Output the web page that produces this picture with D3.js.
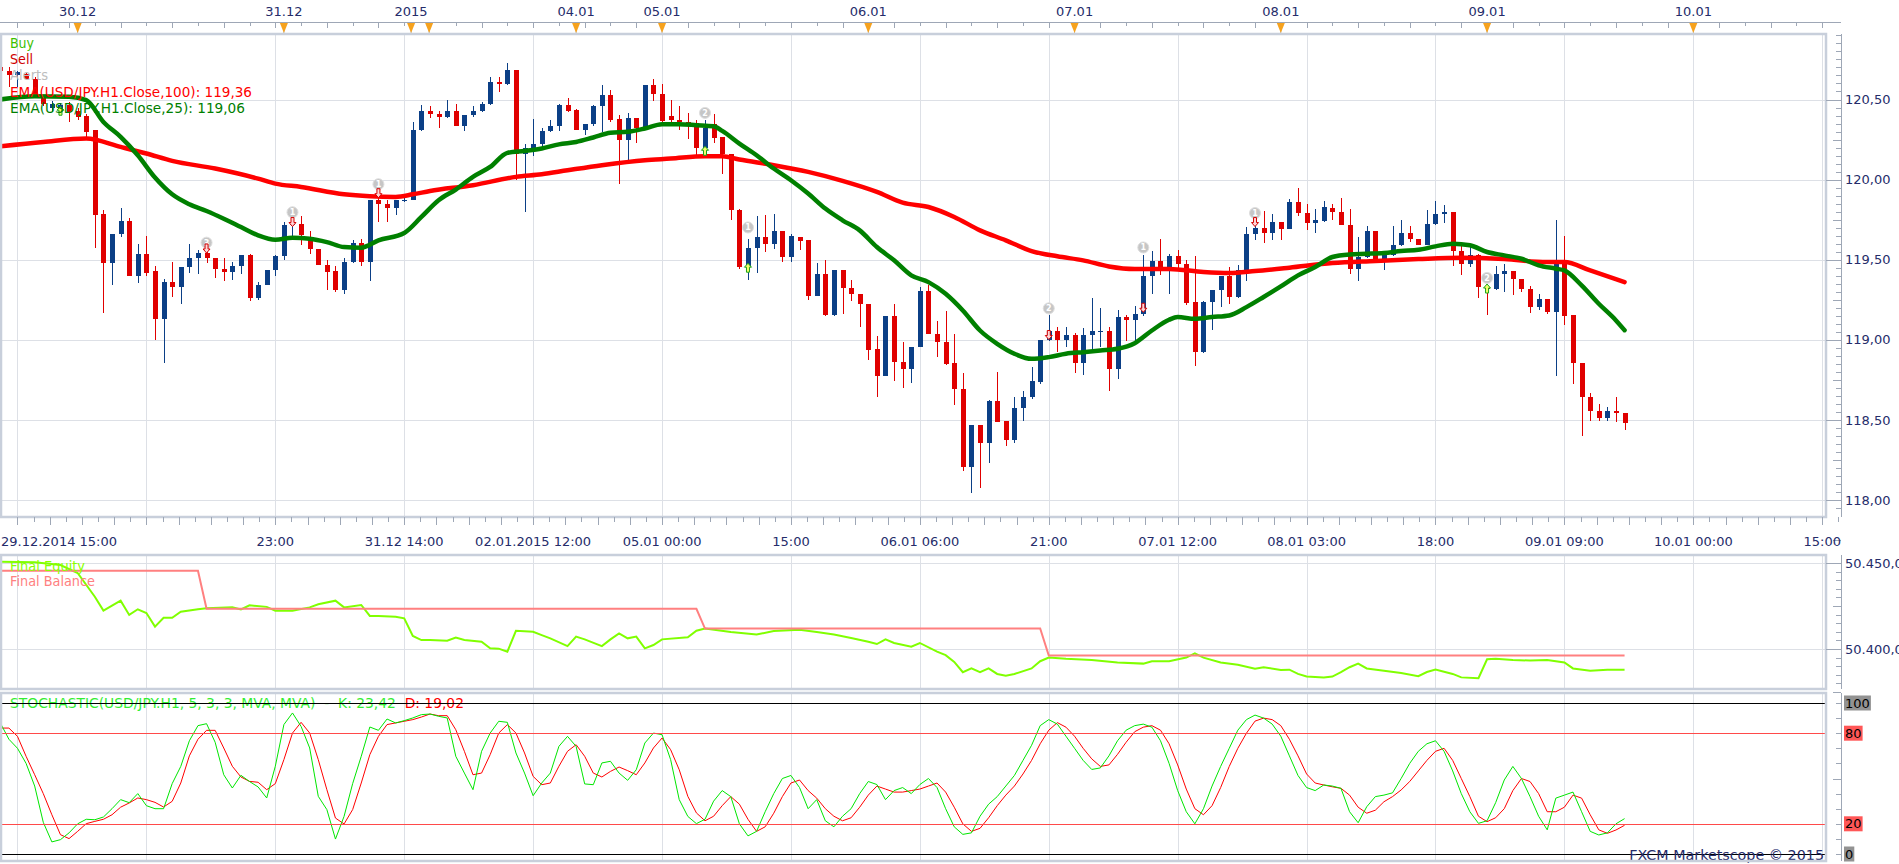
<!DOCTYPE html>
<html>
<head>
<meta charset="utf-8">
<title>USD/JPY H1 - Marketscope</title>
<script src="https://cdn.jsdelivr.net/npm/d3@7"></script>
<style>
  html, body { margin: 0; padding: 0; background: #fff; }
  svg { display: block; font-family: "DejaVu Sans", Verdana, sans-serif; font-size: 13px; }
</style>
</head>
<body>
<svg id="chart" width="1899" height="864"></svg>
<script>
// USD/JPY H1 candles, EMA(100) / EMA(25), equity panel and stochastic

// [open, high, low, close] for each hourly bar
const candles = [
  [120.70,120.72,120.66,120.68],[120.68,120.70,120.58,120.655],[120.655,120.675,120.58,120.67],[120.66,120.67,120.62,120.63],
  [120.625,120.64,120.51,120.537],[120.52,120.53,120.46,120.475],[120.445,120.49,120.42,120.475],[120.44,120.48,120.41,120.465],
  [120.465,120.485,120.36,120.42],[120.43,120.45,120.37,120.39],[120.395,120.41,120.245,120.30],[120.31,120.31,119.57,119.78],
  [119.785,119.81,119.17,119.48],[119.48,119.66,119.34,119.66],[119.66,119.82,119.64,119.74],[119.74,119.76,119.40,119.40],
  [119.40,119.60,119.355,119.533],[119.533,119.645,119.40,119.42],[119.427,119.46,118.998,119.13],[119.13,119.38,118.854,119.358],
  [119.358,119.485,119.27,119.33],[119.33,119.452,119.225,119.452],[119.452,119.596,119.42,119.512],[119.512,119.558,119.41,119.542],
  [119.54,119.56,119.48,119.51],[119.512,119.512,119.385,119.444],[119.444,119.512,119.367,119.423],[119.423,119.485,119.375,119.458],
  [119.458,119.527,119.412,119.527],[119.527,119.537,119.242,119.26],[119.26,119.358,119.25,119.344],[119.344,119.437,119.34,119.437],
  [119.437,119.527,119.396,119.52],[119.52,119.735,119.496,119.715],[119.715,119.75,119.65,119.725],[119.72,119.77,119.59,119.652],
  [119.62,119.68,119.537,119.569],[119.569,119.569,119.465,119.465],[119.47,119.496,119.308,119.423],[119.43,119.462,119.298,119.308],
  [119.308,119.512,119.283,119.483],[119.483,119.625,119.48,119.606],[119.606,119.631,119.458,119.485],[119.485,119.875,119.37,119.875],
  [119.875,119.923,119.735,119.85],[119.85,119.87,119.735,119.825],[119.825,119.875,119.777,119.87],[119.87,119.89,119.86,119.875],
  [119.875,120.36,119.875,120.308],[120.308,120.465,120.304,120.427],[120.427,120.458,120.387,120.408],[120.408,120.427,120.325,120.392],
  [120.392,120.496,120.385,120.427],[120.427,120.471,120.333,120.333],[120.333,120.402,120.304,120.402],[120.402,120.462,120.39,120.427],
  [120.427,120.485,120.42,120.471],[120.471,120.642,120.465,120.612],[120.612,120.642,120.548,120.594],[120.594,120.725,120.59,120.683],
  [120.683,120.683,119.996,120.162],[120.162,120.221,119.798,120.2],[120.2,120.377,120.146,120.225],[120.225,120.319,120.21,120.304],
  [120.304,120.375,120.30,120.333],[120.333,120.471,120.304,120.465],[120.465,120.512,120.42,120.429],[120.433,120.44,120.31,120.312],
  [120.312,120.346,120.277,120.346],[120.346,120.465,120.335,120.458],[120.458,120.59,120.3,120.527],[120.527,120.558,120.36,120.371],
  [120.381,120.402,119.971,120.246],[120.246,120.417,120.121,120.387],[120.387,120.387,120.229,120.319],[120.319,120.59,120.319,120.59],
  [120.59,120.631,120.492,120.537],[120.537,120.596,120.36,120.367],[120.396,120.496,120.36,120.371],[120.375,120.462,120.308,120.358],
  [120.362,120.417,120.254,120.35],[120.354,120.375,120.152,120.2],[120.2,120.371,120.162,120.325],[120.35,120.412,120.229,120.262],
  [120.267,120.267,120.037,120.162],[120.162,120.162,119.746,119.812],[119.812,119.819,119.444,119.454],[119.454,119.631,119.371,119.575],
  [119.575,119.775,119.419,119.642],[119.642,119.779,119.548,119.6],[119.6,119.783,119.569,119.679],[119.679,119.679,119.485,119.517],
  [119.517,119.658,119.485,119.646],[119.642,119.642,119.558,119.617],[119.621,119.621,119.246,119.271],[119.271,119.479,119.271,119.408],
  [119.408,119.496,119.146,119.152],[119.152,119.433,119.146,119.433],[119.433,119.433,119.158,119.325],[119.325,119.371,119.242,119.283],
  [119.283,119.283,119.079,119.225],[119.225,119.225,118.871,118.937],[118.944,119.021,118.642,118.777],[118.777,119.15,118.771,119.15],
  [119.15,119.221,118.742,118.86],[118.86,118.985,118.7,118.819],[118.819,118.958,118.731,118.958],[118.958,119.329,118.955,119.304],
  [119.304,119.34,119.037,119.037],[119.037,119.117,118.892,118.985],[118.985,119.179,118.84,118.846],[118.854,119.036,118.596,118.692],
  [118.692,118.792,118.183,118.204],[118.204,118.471,118.042,118.471],[118.471,118.471,118.073,118.354],[118.354,118.625,118.229,118.617],
  [118.617,118.798,118.485,118.485],[118.492,118.492,118.34,118.375],[118.375,118.646,118.354,118.575],[118.575,118.679,118.492,118.646],
  [118.646,118.833,118.631,118.74],[118.735,118.996,118.725,118.996],[118.996,119.152,118.99,119.058],[119.058,119.083,118.923,118.996],
  [118.999,119.083,118.958,119.033],[119.033,119.04,118.792,118.854],[118.854,119.075,118.783,119.033],[119.033,119.258,118.942,119.058],
  [119.054,119.196,118.958,119.058],[119.058,119.083,118.683,118.819],[118.819,119.183,118.756,119.142],[119.142,119.152,118.992,119.125],
  [119.125,119.208,118.971,119.158],[119.158,119.527,119.15,119.396],[119.396,119.554,119.283,119.492],[119.492,119.631,119.402,119.437],
  [119.437,119.537,119.288,119.521],[119.521,119.562,119.433,119.475],[119.475,119.496,119.215,119.229],[119.233,119.521,118.839,118.923],
  [118.923,119.24,118.92,119.235],[119.235,119.312,119.063,119.312],[119.312,119.396,119.204,119.396],[119.396,119.454,119.225,119.267],
  [119.267,119.465,119.26,119.437],[119.437,119.704,119.367,119.662],[119.662,119.735,119.625,119.7],[119.7,119.804,119.604,119.667],
  [119.667,119.783,119.625,119.733],[119.733,119.733,119.625,119.692],[119.692,119.881,119.692,119.858],[119.858,119.946,119.775,119.792],
  [119.792,119.846,119.688,119.729],[119.729,119.817,119.667,119.746],[119.742,119.865,119.738,119.829],[119.825,119.846,119.746,119.798],
  [119.8,119.883,119.717,119.717],[119.717,119.817,119.412,119.444],[119.44,119.64,119.37,119.517],[119.517,119.712,119.508,119.679],
  [119.679,119.679,119.49,119.496],[119.496,119.527,119.435,119.527],[119.527,119.71,119.52,119.59],[119.59,119.75,119.585,119.667],
  [119.667,119.712,119.612,119.631],[119.631,119.631,119.592,119.592],[119.592,119.808,119.59,119.721],[119.721,119.865,119.715,119.788],
  [119.788,119.842,119.73,119.8],[119.8,119.8,119.458,119.554],[119.554,119.612,119.402,119.475],[119.475,119.579,119.454,119.527],
  [119.527,119.535,119.262,119.329],[119.33,119.335,119.152,119.318],[119.318,119.462,119.31,119.412],[119.412,119.475,119.3,119.429],
  [119.429,119.429,119.277,119.381],[119.381,119.381,119.298,119.319],[119.319,119.333,119.167,119.204],[119.204,119.283,119.188,119.254],
  [119.254,119.254,119.158,119.173],[119.173,119.75,118.777,119.5],[119.5,119.646,119.09,119.146],[119.152,119.152,118.721,118.854],
  [118.858,118.858,118.402,118.642],[118.646,118.671,118.492,118.554],[118.558,118.6,118.492,118.51],[118.51,118.579,118.492,118.558],
  [118.558,118.646,118.485,118.542],[118.546,118.546,118.437,118.479]
];

// [bar, value] read along the moving averages
const ema100 = [
  [0,120.208],[5,120.235],[10,120.256],[14,120.204],[17,120.163],[20,120.117],[25,120.069],[30,120.006],[32,119.975],
  [35,119.954],[40,119.908],[43,119.896],[46,119.892],[48,119.908],[50,119.929],[55,119.965],[60,120.017],[63,120.033],
  [66,120.058],[70,120.09],[75,120.121],[78,120.131],[82,120.146],[84,120.146],[86,120.125],[90,120.09],[94,120.048],
  [98,119.992],[102,119.923],[105,119.856],[108,119.829],[111,119.767],[114,119.683],[117,119.621],[120,119.554],
  [123,119.521],[126,119.496],[129,119.458],[132,119.442],[136,119.442],[140,119.423],[143,119.417],[146,119.429],
  [150,119.45],[155,119.479],[160,119.492],[165,119.504],[170,119.512],[175,119.504],[180,119.485],[182,119.485],
  [185,119.433],[189,119.36]
];
const ema25 = [
  [0,120.5],[4,120.521],[8,120.517],[10,120.496],[12,120.36],[14,120.267],[16,120.152],[18,120.013],[20,119.908],
  [22,119.846],[24,119.804],[26,119.756],[28,119.704],[30,119.652],[32,119.625],[34,119.637],[36,119.631],[38,119.61],
  [40,119.579],[42,119.575],[44,119.621],[47,119.667],[49,119.767],[51,119.871],[53,119.938],[55,120.017],[57,120.079],
  [59,120.167],[61,120.179],[63,120.194],[65,120.22],[67,120.235],[69,120.263],[71,120.292],[73,120.298],[75,120.319],
  [77,120.346],[79,120.346],[81,120.34],[83,120.333],[84,120.304],[86,120.225],[88,120.152],[90,120.069],[92,119.996],
  [94,119.913],[96,119.819],[98,119.746],[100,119.683],[102,119.579],[104,119.496],[106,119.402],[108,119.36],
  [110,119.287],[112,119.183],[114,119.058],[116,118.975],[118,118.913],[120,118.881],[122,118.892],[124,118.913],
  [126,118.923],[128,118.933],[130,118.944],[132,118.979],[134,119.058],[136,119.125],[137,119.142],[139,119.131],
  [141,119.142],[143,119.152],[145,119.204],[147,119.267],[149,119.333],[151,119.402],[153,119.454],[155,119.517],
  [157,119.533],[159,119.537],[161,119.542],[163,119.554],[165,119.562],[167,119.583],[169,119.6],[171,119.59],
  [173,119.548],[175,119.527],[177,119.506],[179,119.465],[181,119.444],[182,119.433],[184,119.34],[186,119.225],
  [188,119.121],[189,119.06]
];

// trade markers: [bar, circle price, number, kind, arrow price]
const signals = [
  [7, null, "", "buy", 120.43],
  [24, 119.60, "3", "sell", 119.57],
  [34, 119.79, "1", "sell", 119.735],
  [44, 119.965, "1", "sell", 119.915],
  [82, 120.41, "2", "buy", 120.18],
  [87, 119.695, "1", "buy", 119.45],
  [122, 119.19, "2", "sell", 119.03],
  [133, 119.57, "1", "sell", 119.2],
  [146, 119.785, "1", "sell", 119.735],
  [173, 119.38, "2", "buy", 119.32]
];

// account panel
const balanceBars = [0, 23, 24, 81, 82, 121, 122, 189];
const balanceVals = [50445.5, 50445.5, 50423.4, 50423.4, 50411.9, 50411.9, 50396.2, 50396.2];
const equityBars = [0,4,7,9,11,12,14,15,16,17,18,19,20,21,23,24,27,28,29,31,32,34,36,37,39,40,42,43,44,46,47,48,49,50,52,53,54,56,57,58,59,
  60,62,63,64,66,67,68,70,71,72,73,74,75,76,77,80,81,82,85,88,90,93,95,97,99,101,102,103,104,106,107,109,110,111,112,113,114,115,116,117,118,
  120,121,122,124,127,130,133,134,136,138,139,140,142,144,146,147,149,150,151,152,154,155,156,157,158,159,161,163,165,166,167,169,170,172,173,174,
  176,178,180,182,183,185,187,189];
const equityVals = [50450.8,50450.5,50448.8,50444.2,50430.4,50422.3,50428.1,50419.8,50423.1,50420.9,50413.0,50418.2,50418.2,50421.7,50423.1,
  50423.7,50424.2,50423.0,50425.4,50424.5,50422.3,50422.3,50424.2,50426.0,50428.1,50424.2,50425.6,50419.2,50419.2,50418.8,50417.8,50407.6,
  50405.2,50405.2,50404.8,50406.6,50405.2,50404.2,50400.4,50400.2,50398.4,50410.6,50410.0,50408.1,50406.2,50401.7,50407.2,50405.6,50401.7,
  50405.6,50409.1,50406.2,50407.2,50400.4,50402.3,50405.6,50406.8,50410.6,50411.9,50409.9,50408.4,50410.5,50411.2,50409.9,50408.4,50406.4,
  50404.2,50402.9,50405.6,50403.5,50401.3,50403.5,50398.5,50396.4,50392.5,50386.5,50388.7,50386.5,50388.7,50385.5,50384.5,50385.5,
  50388.7,50392.9,50395.0,50394.3,50393.6,50392.2,50391.5,50392.9,50392.9,50395.0,50397.5,50395.0,50392.2,50390.8,50388.5,50389.4,50387.8,
  50388.0,50385.5,50384.0,50383.5,50384.0,50386.5,50389.4,50391.5,50388.7,50387.3,50386.0,50384.2,50386.6,50388.0,50385.5,50383.5,50383.0,
  50394.0,50394.3,50393.6,50393.3,50393.6,50392.2,50388.7,50387.3,50388.0,50388.0];

// stochastic %K and %D, one value per bar
const stochK = [86.8,76,70,60,45,21,8,9.5,14,20,23,22.7,24.5,30,36,34,40,32,30,30,46.6,58,75,85,86.3,74,52.5,43.7,52.1,48,44.4,37.1,58.1,
  85.7,93.4,84.5,70.2,38.2,29.4,9.9,24.9,46.6,64.7,84.1,81.9,89.4,86.8,88.3,90.1,92.3,92.7,91.2,90.1,64.7,53.6,42.6,68,80.1,87.9,87.2,66.9,
  53.6,38.6,47,53.6,71.3,77.9,71.3,46.4,45.9,60.3,61.4,53.6,48.8,55.8,73.5,80.1,79,62.5,36,24.9,20.1,23,35,42,38,20,12,15,28,40,50,52,44,30,
  36,22,18,25,30,40,48,46,36,42,44,40,46,50,44,30,18,13,14,25,33,38,45,52,62,72,85,89,86,78,70,62,56,57,65,75,82,85,86,84,75,60,42,28,20,30,
  45,58,70,82,89,92,90,86,78,65,52,44,42,45.7,45,43.5,28,20.7,31.3,38,39,40.5,50,60,68,73,75,68,55,40,28,20.3,22,34,49,58,50,38,25,16,37,39,
  41,28,15,12.6,14,20,23.42];
const stochD = [83.4,83.4,77.9,64.7,52.5,40,26,12.8,10.2,15,20.1,21.6,23,26,31,33.8,37.1,36,34.2,31.1,34.9,47,65,76,81.9,81.9,70.2,58.1,51,
  48.1,47.5,42.6,46.6,62.5,80.1,87.2,80.1,62.5,42.6,23.8,19.9,29.4,47,65.8,77.9,85.7,86.8,87.9,89,90.7,92.7,91.6,91.6,82.3,68,52.5,53.6,65.8,
  80.1,85.7,80.1,66.9,51.4,45.9,47,58.1,68,72.4,64.7,53.6,51,54.7,57.6,55.2,52.5,60.3,70.2,76.8,69.1,55.8,38.2,27.2,22,25,32,38,33,23,15,18,
  27,38,47,49,42,37,30,25,22,24,31,39,45,43,41,41,42,43,45,47,41,31,20,15,17,24,32,39,45,53,62,73,82,87,84,78,70,63,58,59,66,74,81,84,85,82,
  73,59,43,30,26,32,44,58,70,80,88,90,89,85,76,65,53,47,45.7,44.5,43.5,39,31,27,29,34.6,38,42.4,48,55,62,68,70,62,50,38,25,21.4,24,30,42,50,
  48,40,28,28,31,39,37,26,16,13.7,15.9,19.02];

// axes and time labels
const priceTicks = [118, 118.5, 119, 119.5, 120, 120.5];
const equityTicks = [50400, 50450];
const stochLabels = [100, 80, 20, 0];
const gridBars = d3.range(2, 213, 15);
const timeLabelBars = [2, 32, 47, 62, 77, 92, 107, 122, 137, 152, 167, 182, 197, 212];
const timeLabels = ["29.12.2014 15:00", "23:00", "31.12 14:00", "02.01.2015 12:00", "05.01 00:00", "15:00", "06.01 06:00",
  "21:00", "07.01 12:00", "08.01 03:00", "18:00", "09.01 09:00", "10.01 00:00", "15:00"];
const dayBars = [9, 33, 47.8, 67, 77, 101, 125, 149, 173, 197];
const dayLabels = ["30.12", "31.12", "2015", "04.01", "05.01", "06.01", "07.01", "08.01", "09.01", "10.01"];
const eventBars = [9, 33, 47.8, 49.9, 67, 77, 101, 125, 149, 173, 197];

// layout
const PLOT_L = 1, PLOT_R = 1826, AXIS_X = 1841;
const MAIN = {top: 34, bottom: 517};
const EQ = {top: 555, bottom: 689};
const ST = {top: 693, bottom: 861};

const NAVY = "#252c6a";
const BULL = "#0b3f86";
const BEAR = "#e00000";
const GRID = "#dde0e6";
const FRAME = "#c8cfdb";
const TICK = "#9ea7b6";
const LEGEND_FONT = "13.4px";

const svg = d3.select("#chart");

const x = d3.scaleLinear().domain([0, 100]).range([0.3, 859.7]);
const yPrice = d3.scaleLinear().domain([118, 120.5]).range([500, 99.5]);
const yEq = d3.scaleLinear().domain([50400, 50450]).range([649, 563]);
const ySt = d3.scaleLinear().domain([0, 100]).range([854, 703]);

const fmtPrice = d => d3.format(".2f")(d).replace(".", ",");
const euLocale = d3.formatLocale({decimal: ",", thousands: ".", grouping: [3], currency: ["", ""]});
const fmtEq = euLocale.format(",.2f");

const defs = svg.append("defs");
function clipFor(id, p){
  defs.append("clipPath").attr("id", id)
    .append("rect").attr("x", PLOT_L).attr("y", p.top).attr("width", PLOT_R - PLOT_L).attr("height", p.bottom - p.top);
  return `url(#${id})`;
}

function vGrid(p){
  svg.append("g").attr("shape-rendering", "crispEdges")
    .selectAll("line").data(gridBars.filter(b => x(b) < PLOT_R - 2)).join("line")
    .attr("x1", b => Math.round(x(b)) + 0.5).attr("x2", b => Math.round(x(b)) + 0.5)
    .attr("y1", p.top).attr("y2", p.bottom)
    .attr("stroke", GRID);
}

function hGrid(values, scale){
  svg.append("g").attr("shape-rendering", "crispEdges")
    .selectAll("line").data(values).join("line")
    .attr("x1", PLOT_L).attr("x2", PLOT_R)
    .attr("y1", d => Math.round(scale(d)) + 0.5).attr("y2", d => Math.round(scale(d)) + 0.5)
    .attr("stroke", GRID);
}

function frame(p){
  svg.append("rect")
    .attr("x", PLOT_L).attr("y", p.top).attr("width", PLOT_R - PLOT_L).attr("height", p.bottom - p.top)
    .attr("fill", "none").attr("stroke", FRAME).attr("stroke-width", 2.5);
}

// legend-style text, stretched to the width it has in the chart
function label(x0, y0, text, color, width){
  const t = svg.append("text").style("font-size", LEGEND_FONT)
    .attr("x", x0).attr("y", y0).attr("dy", "0.35em").attr("fill", color).text(text);
  if(width) t.attr("textLength", width).attr("lengthAdjust", "spacingAndGlyphs");
  return t;
}

function rightAxis(scale, p, minors, mids, majors, fmt){
  const g = svg.append("g").attr("transform", `translate(${AXIS_X},0)`).attr("shape-rendering", "crispEdges");
  g.append("line").attr("x1", 0.5).attr("x2", 0.5).attr("y1", p.top).attr("y2", p.bottom).attr("stroke", TICK);

  const gMinor = g.append("g").call(d3.axisRight(scale).tickValues(minors).tickSize(-5).tickFormat(""));
  const gMid = g.append("g").call(d3.axisRight(scale).tickValues(mids).tickSize(-8).tickFormat(""));
  const gMajor = g.append("g").call(d3.axisRight(scale).tickValues(majors).tickSizeInner(-15).tickSizeOuter(0)
    .tickPadding(4).tickFormat(fmt || ""));
  [gMinor, gMid, gMajor].forEach(a => {
    a.select(".domain").remove();
    a.selectAll(".tick line").attr("stroke", TICK);
    a.attr("font-family", null).attr("font-size", null);
  });
  gMajor.selectAll(".tick text").attr("fill", NAVY);
  return gMajor;
}

// ---- top date ruler ----
const ruler = svg.append("g");
ruler.append("line").attr("x1", 0).attr("x2", AXIS_X).attr("y1", 22.5).attr("y2", 22.5).attr("stroke", TICK);
ruler.selectAll("line.tk").data(d3.range(2, 213, 3)).join("line").attr("class", "tk")
  .attr("shape-rendering", "crispEdges")
  .attr("x1", b => Math.round(x(b)) + 0.5).attr("x2", b => Math.round(x(b)) + 0.5)
  .attr("y1", 22).attr("y2", b => (b - 2) % 6 === 0 ? 28 : 26)
  .attr("stroke", TICK);
ruler.selectAll("line.ev").data(eventBars).join("line").attr("class", "ev")
  .attr("x1", b => x(b)).attr("x2", b => x(b)).attr("y1", 30).attr("y2", MAIN.top)
  .attr("stroke", "#b9b9b9");
ruler.selectAll("path.ev").data(eventBars).join("path").attr("class", "ev")
  .attr("d", b => `M${x(b) - 4},23 L${x(b) + 4},23 L${x(b)},33 Z`)
  .attr("fill", "#f6a21e");
ruler.selectAll("text").data(dayBars).join("text")
  .attr("x", b => x(b)).attr("y", 11).attr("dy", "0.35em")
  .attr("text-anchor", "middle").attr("fill", NAVY)
  .text((b, i) => dayLabels[i]);

// ---- main price panel ----
vGrid(MAIN);
hGrid(priceTicks, yPrice);

const clipMain = clipFor("clipMain", MAIN);
const mainG = svg.append("g").attr("clip-path", clipMain);

const candleG = mainG.append("g").attr("shape-rendering", "crispEdges");
candleG.selectAll("line").data(candles).join("line")
  .attr("x1", (d, i) => Math.round(x(i)) + 0.5).attr("x2", (d, i) => Math.round(x(i)) + 0.5)
  .attr("y1", d => yPrice(d[1])).attr("y2", d => yPrice(d[2]))
  .attr("stroke", d => d[3] >= d[0] ? BULL : BEAR);
candleG.selectAll("rect").data(candles).join("rect")
  .attr("x", (d, i) => Math.round(x(i)) - 2)
  .attr("width", 5)
  .attr("y", d => yPrice(Math.max(d[0], d[3])))
  .attr("height", d => Math.max(1.5, Math.abs(yPrice(d[0]) - yPrice(d[3]))))
  .attr("fill", d => d[3] >= d[0] ? BULL : BEAR);

const emaLine = d3.line().x(d => x(d[0])).y(d => yPrice(d[1])).curve(d3.curveMonotoneX);
mainG.append("path").attr("d", emaLine(ema100)).attr("fill", "none")
  .attr("stroke", "#ff0000").attr("stroke-width", 4.5).attr("stroke-linejoin", "round").attr("stroke-linecap", "round");
mainG.append("path").attr("d", emaLine(ema25)).attr("fill", "none")
  .attr("stroke", "#008000").attr("stroke-width", 4.5).attr("stroke-linejoin", "round").attr("stroke-linecap", "round");

// trade markers
const sigG = mainG.append("g");
const withCircle = signals.filter(s => s[1] !== null);
sigG.selectAll("circle").data(withCircle).join("circle")
  .attr("cx", s => x(s[0])).attr("cy", s => yPrice(s[1]) - 1).attr("r", 5.5)
  .attr("fill", "#c6c6c6").attr("stroke", "#dedede");
sigG.selectAll("text").data(withCircle).join("text")
  .attr("x", s => x(s[0])).attr("y", s => yPrice(s[1]) - 1).attr("dy", "0.36em")
  .attr("text-anchor", "middle").style("font-size", "8px").attr("font-weight", "bold").attr("fill", "#fff")
  .text(s => s[2]);
sigG.selectAll("path").data(signals).join("path")
  .attr("transform", s => `translate(${x(s[0])},${yPrice(s[4])})`)
  .attr("d", s => s[3] === "buy"
    ? "M0,-4.5 L3.5,-0.5 L1.5,-0.5 L1.5,4.5 L-1.5,4.5 L-1.5,-0.5 L-3.5,-0.5 Z"
    : "M0,4.5 L3.5,0.5 L1.5,0.5 L1.5,-4.5 L-1.5,-4.5 L-1.5,0.5 L-3.5,0.5 Z")
  .attr("fill", s => s[3] === "buy" ? "#f4ff6a" : "#ffd6d6")
  .attr("stroke", s => s[3] === "buy" ? "#1aa31a" : "#d40000").attr("stroke-width", 1);

// legend (widths as measured on the chart)
label(10, 43, "Buy", "#3cc000", 24);
label(10, 59.3, "Sell", "#d00000", 23);
label(10, 75.6, "Alerts", "#bdbdbd", 38);
label(10, 91.9, "EMA(USD/JPY.H1.Close,100): 119,36", "#ff0000", 242);
label(10, 108.2, "EMA(USD/JPY.H1.Close,25): 119,06", "#008000", 235);

frame(MAIN);
rightAxis(yPrice, MAIN,
  d3.range(0, 60).map(i => 117.95 + i * 0.05),
  d3.range(0, 12).map(i => 117.75 + i * 0.25),
  priceTicks, fmtPrice);

// time axis under the price panel
const tAxis = svg.append("g").attr("shape-rendering", "crispEdges");
tAxis.selectAll("line").data(d3.range(0, 114)).join("line")
  .attr("x1", k => Math.round(x(2 + k * 1.875)) + 0.5).attr("x2", k => Math.round(x(2 + k * 1.875)) + 0.5)
  .attr("y1", MAIN.bottom).attr("y2", k => k % 2 === 0 ? MAIN.bottom + 8 : MAIN.bottom + 5)
  .attr("stroke", TICK);
tAxis.selectAll("text").data(timeLabelBars).join("text")
  .attr("x", (b, i) => i === 0 ? 1 : x(b))
  .attr("y", 541).attr("dy", "0.35em")
  .attr("text-anchor", (b, i) => i === 0 ? "start" : "middle")
  .attr("fill", NAVY)
  .text((b, i) => timeLabels[i]);

// ---- equity / balance panel ----
vGrid(EQ);
hGrid(equityTicks, yEq);
const eqG = svg.append("g").attr("clip-path", clipFor("clipEq", EQ));
const equityPts = equityBars.map((b, i) => [b, equityVals[i]]);
const balancePts = balanceBars.map((b, i) => [b, balanceVals[i]]);
const eqLine = d3.line().x(d => x(d[0])).y(d => yEq(d[1]));
eqG.append("path").attr("d", eqLine(equityPts)).attr("fill", "none").attr("stroke", "#80ff00").attr("stroke-width", 2);
eqG.append("path").attr("d", eqLine(balancePts)).attr("fill", "none").attr("stroke", "#ff8080").attr("stroke-width", 2);
label(10, 566, "Final Equity", "#88ff00", 75);
label(10, 581, "Final Balance", "#ff8080", 85);
frame(EQ);
rightAxis(yEq, EQ,
  d3.range(0, 14).map(i => 50380 + i * 5),
  [50375, 50425],
  equityTicks, fmtEq);

// ---- stochastic panel ----
vGrid(ST);
const stG = svg.append("g").attr("clip-path", clipFor("clipSt", ST));
const stLine = d3.line().x((d, i) => x(i)).y(d => ySt(d));
stG.append("path").attr("d", stLine(stochD)).attr("fill", "none").attr("stroke", "#ff0000").attr("stroke-width", 1);
stG.append("path").attr("d", stLine(stochK)).attr("fill", "none").attr("stroke", "#00e600").attr("stroke-width", 1);

const stTitle = label(10, 703, null, null, 454).style("white-space", "pre");
stTitle.append("tspan").attr("fill", "#33ee33")
  .text("STOCHASTIC(USD/JPY.H1, 5, 3, 3, MVA, MVA)  -  K: 23,42  ");
stTitle.append("tspan").attr("fill", "#ff0000").text("D: 19,02");

svg.append("g").attr("shape-rendering", "crispEdges")
  .selectAll("line").data(stochLabels).join("line")
  .attr("x1", PLOT_L).attr("x2", PLOT_R)
  .attr("y1", d => Math.round(ySt(d)) + 0.5).attr("y2", d => Math.round(ySt(d)) + 0.5)
  .attr("stroke", d => (d === 0 || d === 100) ? "#000" : "#ff4a4a")
  .attr("stroke-width", d => (d === 0 || d === 100) ? 1.5 : 1);

svg.append("text").attr("x", 1824).attr("y", 855).attr("dy", "0.35em").attr("text-anchor", "end")
  .style("font-size", "14.3px").attr("fill", NAVY).text("FXCM Marketscope \u00a9 2015");

frame(ST);
rightAxis(ySt, ST, d3.range(0, 101, 10), [50], [], null);

// level boxes on the stochastic axis
const boxG = svg.append("g");
stochLabels.forEach(v => {
  const t = String(v);
  const w = t.length * 8.3 + 2;
  const isEdge = v === 0 || v === 100;
  boxG.append("rect").attr("x", AXIS_X + 3).attr("y", ySt(v) - 7.5).attr("width", w).attr("height", 15)
    .attr("fill", isEdge ? "#929292" : "#ff5757");
  boxG.append("text").attr("x", AXIS_X + 4).attr("y", ySt(v)).attr("dy", "0.35em").attr("fill", "#000").text(t);
});
</script>
</body>
</html>
